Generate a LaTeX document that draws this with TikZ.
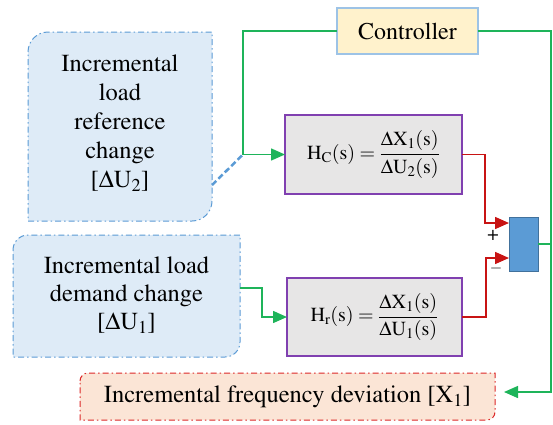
\documentclass[tikz,border=0pt]{standalone}
\usepackage{amsmath}
\usepackage[T1]{fontenc}
\usepackage{mathptmx}
\usetikzlibrary{arrows.meta}
\definecolor{srcfill}{RGB}{222,235,247}
\definecolor{srcedge}{RGB}{91,155,213}
\definecolor{outfill}{RGB}{251,229,214}
\definecolor{outedge}{RGB}{220,40,40}
\definecolor{ctrlfill}{RGB}{255,242,204}
\definecolor{ctrledge}{RGB}{157,195,230}
\definecolor{tffill}{RGB}{231,230,230}
\definecolor{tfedge}{RGB}{128,64,176}
\definecolor{sumedge}{RGB}{65,113,156}
\definecolor{linkgreen}{RGB}{30,180,90}
\definecolor{linkred}{RGB}{200,20,20}
\tikzset{
    diagram/.style={
        x=1pt, y=-1pt,
        >={Triangle[length=14pt,width=12pt]},
        line join=miter,
    },
    boxshape/.style={inner sep=0pt, outer sep=0pt, minimum width=#1},
    softtext/.style={align=center, font=\fontsize{24.5}{29}\selectfont, inner sep=0pt},
    softedge/.style={draw=#1, line width=1pt, dash pattern=on 6pt off 3pt on 1.5pt off 3pt},
    tfbox/.style={draw=tfedge, fill=tffill, line width=1.2pt, inner sep=0pt, outer sep=0pt,
        font=\fontsize{20}{22}\selectfont},
    gline/.style={draw=linkgreen, line width=1.5pt},
    rline/.style={draw=linkred, line width=1.5pt},
    signtext/.style={font=\fontsize{20}{20}\selectfont, inner sep=0pt},
}
% box with two round corners (top left and bottom right)
\newcommand{\softbox}[4]{%
    \filldraw[fill=#2, softedge=#3] ([yshift=-#4]#1.north west)
      arc[start angle=180, end angle=90, radius=#4] -- (#1.north east)
      -- ([yshift=#4]#1.south east)
      arc[start angle=0, end angle=-90, radius=#4] -- (#1.south west) -- cycle;}
\newcommand{\transfn}[2]{$\mathrm{H_{#1}(s)}=\dfrac{\Delta\mathrm{X_{1}(s)}}{\Delta\mathrm{U_{#2}(s)}}$}

\begin{document}
\begin{tikzpicture}
        [diagram]
        \useasboundingbox (0,0) rectangle (553,424);
        % outlines of the input and output boxes
        \node[boxshape=184pt, minimum height=189pt] (refchg) at (120,126.5) {};
        \node[boxshape=227pt, minimum height=122pt] (demchg) at (126.5,296) {};
        \node[boxshape=415pt, minimum height=47pt] (freqdev) at (287.5,396.5) {};
        \softbox{refchg}{srcfill}{srcedge}{20pt}
        \softbox{demchg}{srcfill}{srcedge}{15pt}
        \softbox{freqdev}{outfill}{outedge}{8pt}
        \node[softtext] (refchgtxt) at (120,123) {Incremental\\load\\reference\\change\\{}[$\Delta$U\textsubscript{2}]};
        \node[softtext, font=\fontsize{24.5}{28}\selectfont] (demchgtxt) at (126.5,295) {Incremental load\\demand change\\{}[$\Delta$U\textsubscript{1}]};
        \node[softtext] (freqdevtxt) at (287.5,397) {Incremental frequency deviation [X\textsubscript{1}]};
        % controller, transfer functions and summing block
        \node[draw=ctrledge, fill=ctrlfill, line width=1.2pt, boxshape=141pt, minimum height=46pt,
            font=\fontsize{24}{24}\selectfont] (ctrl) at (407.5,31) {Controller};
        \node[tfbox, minimum width=177pt, minimum height=79pt] (hc) at (373.5,154.5) {\transfn{C}{2}};
        \node[tfbox, minimum width=175pt, minimum height=78pt] (hr) at (374.5,317) {\transfn{r}{1}};
        \node[draw=sumedge, fill=srcedge, line width=1pt, boxshape=29pt, minimum height=54pt] (sum) at (523.5,244) {};
        \node[signtext] (plus) at (493,235) {+};
        \node[signtext, font=\fontsize{16}{16}\selectfont] (minus) at (496,268) {$-$};
        % connectors
        \coordinate (jn) at (243,154.5);
        \coordinate (rc) at (551,392);
        \draw[gline, ->] (ctrl.west) -| (jn) -- (hc.west);
        \draw[srcedge, line width=2.5pt, dash pattern=on 6pt off 3pt] ([yshift=36pt]refchg.south east) -- (jn);
        \draw[gline, ->] (ctrl.east) -| (rc) -- ([xshift=9pt]freqdev.east |- rc);
        \draw[gline] (sum.east) -- (sum.east -| rc);
        \draw[gline, ->] ([yshift=8pt]demchg.east) -- ++(22,0) |- (hr.west);
        \draw[rline, ->] (hc.east) -- ++(23,0) |- ([yshift=21pt]sum.west);
        \draw[rline, ->] (hr.east) -- ++(24,0) |- ([yshift=-14pt]sum.west);
    \end{tikzpicture}
\end{document}
